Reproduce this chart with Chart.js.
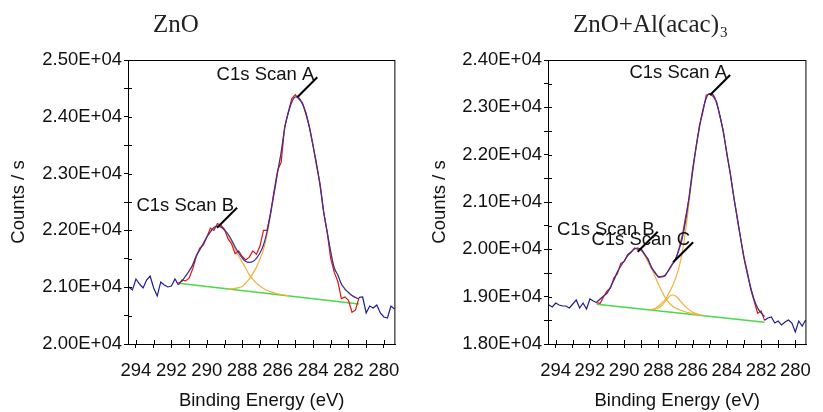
<!DOCTYPE html>
<html>
<head>
<meta charset="utf-8">
<script src="https://cdn.jsdelivr.net/npm/chart.js@4.4.1/dist/chart.umd.min.js"></script>
<style>
  body { margin: 0; background: #fff; }
  #wrap { position: relative; width: 823px; height: 412px; }
  canvas { position: absolute; top: 0; }
  #left { left: 0; }
  #right { left: 412px; }
</style>
</head>
<body>
<div id="wrap">
  <canvas id="left" width="412" height="412"></canvas>
  <canvas id="right" width="411" height="412"></canvas>
</div>
<script>
// binding energy grid (eV), shared by both panels
var energy = [294.4, 294.2, 294.0, 293.8, 293.6, 293.4, 293.2, 293.0, 292.8, 292.6,
              292.4, 292.2, 292.0, 291.8, 291.6, 291.4, 291.2, 291.0, 290.8, 290.6,
              290.4, 290.2, 290.0, 289.8, 289.6, 289.4, 289.2, 289.0, 288.8, 288.6,
              288.4, 288.2, 288.0, 287.8, 287.6, 287.4, 287.2, 287.0, 286.8, 286.6,
              286.4, 286.2, 286.0, 285.8, 285.6, 285.4, 285.2, 285.0, 284.8, 284.6,
              284.4, 284.2, 284.0, 283.8, 283.6, 283.4, 283.2, 283.0, 282.8, 282.6,
              282.4, 282.2, 282.0, 281.8, 281.6, 281.4, 281.2, 281.0, 280.8, 280.6,
              280.4, 280.2, 280.0, 279.8, 279.6, 279.4];

// ---- ZnO ----
var rawZnO = [21004, 20951, 21144, 21056, 20986, 21127, 21197, 20986, 20845, 21092,
              21039, 21004, 21021, 21144, 21040, 21127, 21110, 21160, 21320, 21530,
              21690, 21740, 21880, 22040, 22000, 22120, 22090, 22020, 21850, 21760,
              21590, 21640, 21540, 21480, 21530, 21640, 21580, 21720, 22000, 22000,
              22300, 22700, 23060, 23200, 23830, 24080, 24320, 24390, 24310, 24250,
              24040, 23820, 23500, 23130, 22820, 22330, 21960, 21500, 21260, 21100,
              20800, 20830, 20770, 20560, 20600, 20820, 20827, 20546, 20669, 20634,
              20687, 20546, 20475, 20458, 20669, 20616];
// envelope starts at energy[14]
var envZnO = [21074, 21109, 21197, 21285, 21391, 21549, 21655, 21769, 21884, 21972,
              22051, 22077, 22060, 22007, 21937, 21831, 21708, 21602, 21514, 21452,
              21438, 21452, 21509, 21602, 21743, 21972, 22306, 22659, 23028, 23380,
              23803, 24067, 24261, 24349, 24331, 24225, 24067, 23803, 23486, 23169,
              22782, 22324, 21972, 21620, 21338, 21215, 21056, 20968, 20907, 20854,
              20819, 20792];
// component B starts at energy[14], component A at energy[28]
var peakBZnO = [21074, 21109, 21197, 21285, 21391, 21549, 21655, 21769, 21884, 21972,
                22051, 22076, 22053, 21996, 21909, 21797, 21670, 21548, 21440, 21333,
                21216, 21139, 21072, 21020, 20977, 20945, 20921, 20901, 20885, 20872,
                20860, 20850];
var peakAZnO = [20972, 20972, 20980, 20993, 21014, 21073, 21148, 21239, 21349, 21495,
                21663, 21920, 22268, 22634, 23012, 23370, 23797, 24064, 24261, 24349,
                24331, 24225, 24067, 23803, 23486, 23169, 22782, 22324, 21972, 21620,
                21338, 21215, 21056, 20968, 20907, 20854, 20819, 20792];
var bgEZnO = [291.6, 281.4];
var bgZnO = [21069, 20704];
var labelsZnO = ['C1s Scan A', 'C1s Scan B'];
var labelEZnO = [284.89, 289.42];
var labelCZnO = [24343, 22048];

// ---- ZnO+Al(acac)3 ----
var rawAl = [18824, 18782, 18866, 18824, 18803, 18803, 18761, 18845, 18930, 18761,
             18866, 18740, 18951, 18908, 18870, 18860, 19000, 19120, 19180, 19400,
             19480, 19700, 19740, 19890, 19930, 20030, 20000, 20010, 19880, 19800,
             19600, 19520, 19410, 19430, 19440, 19570, 19690, 19780, 20010, 20300,
             20700, 21100, 21700, 22150, 22620, 22900, 23260, 23280, 23230, 23120,
             22800, 22500, 22000, 21620, 21100, 20700, 20250, 19840, 19520, 19150,
             18900, 18650, 18700, 18500, 18549, 18570, 18444, 18486, 18401, 18465,
             18507, 18444, 18254, 18486, 18380, 18507];
// envelope starts at energy[14]
var envAl = [18887, 18951, 19014, 19077, 19204, 19352, 19521, 19648, 19754, 19859,
             19944, 20007, 20028, 19986, 19901, 19775, 19627, 19500, 19426, 19415,
             19458, 19553, 19669, 19796, 19986, 20239, 20620, 21127, 21655, 22162,
             22585, 22944, 23197, 23292, 23261, 23092, 22817, 22458, 22035, 21592,
             21127, 20662, 20239, 19817, 19479, 19183, 18930, 18761, 18655, 18581];
// B starts at energy[14], C and A at energy[30]
var peakBAl = [18887, 18951, 19014, 19077, 19204, 19352, 19521, 19648, 19754, 19859,
               19944, 20007, 20023, 19975, 19873, 19725, 19597, 19429, 19261, 19114,
               18976, 18878, 18810, 18762, 18730, 18702, 18677, 18656, 18638, 18624,
               18612];
var peakCAl = [18722, 18734, 18761, 18814, 18896, 18988, 19035, 19012, 18945, 18862,
               18784, 18721, 18673, 18641, 18618, 18603];
var peakAAl = [18732, 18749, 18801, 18864, 18936, 19068, 19210, 19382, 19615, 19947,
               20419, 21011, 21593, 22126, 22568, 22940, 23197, 23292, 23261, 23092,
               22817, 22458, 22035, 21592, 21127, 20662, 20239, 19817, 19479, 19183,
               18930, 18761, 18655, 18581];
var bgEAl = [291.6, 281.8];
var bgAl = [18842, 18460];
var labelsAl = ['C1s Scan A', 'C1s Scan B', 'C1s Scan C'];
var labelEAl = [284.98, 289.21, 287.14];
var labelCAl = [23261, 19950, 19726];

var NAVY = '#1c1c96';
var RED = '#e01414';
var ORANGE = '#efb13c';
var GREEN = '#4ad94a';

Chart.defaults.font.family = "'Liberation Sans', Arial, sans-serif";
Chart.defaults.font.size = 18.5;
Chart.defaults.color = '#111';

function pts(vals, start) {
    return vals.map(function (v, i) { return { x: energy[start + i], y: v }; });
}

// frame, inner tick marks, peak labels and the panel title
var decor = {
    id: 'decor',
    afterDraw: function (chart, args, opts) {
        var ctx = chart.ctx, a = chart.chartArea;
        var xs = chart.scales.x, ys = chart.scales.y;
        ctx.save();
        ctx.strokeStyle = '#000';
        ctx.lineWidth = 1;
        ctx.strokeRect(a.left + 0.5, a.top + 0.5, a.right - a.left - 1, a.bottom - a.top);
        ctx.beginPath();
        xs.ticks.forEach(function (t) {
            var px = Math.round(xs.getPixelForValue(t.value)) + 0.5;
            ctx.moveTo(px, a.bottom);
            ctx.lineTo(px, a.bottom - 4);
        });
        ys.ticks.forEach(function (t) {
            var py = Math.round(ys.getPixelForValue(t.value)) + 0.5;
            ctx.moveTo(a.left, py);
            ctx.lineTo(a.left + 4, py);
        });
        ctx.stroke();

        // leader lines + labels
        ctx.lineWidth = 2;
        ctx.fillStyle = '#111';
        ctx.font = "18.5px 'Liberation Sans', Arial, sans-serif";
        ctx.textAlign = 'right';
        ctx.textBaseline = 'middle';
        opts.labels.forEach(function (txt, i) {
            var px = xs.getPixelForValue(opts.labelE[i]);
            var py = ys.getPixelForValue(opts.labelC[i]);
            ctx.beginPath();
            ctx.moveTo(px, py);
            ctx.lineTo(px + 20, py - 20);
            ctx.stroke();
            ctx.fillText(txt, px + 17, py - 22);
        });

        // title (serif, optional subscript)
        ctx.textAlign = 'left';
        ctx.textBaseline = 'alphabetic';
        ctx.fillStyle = '#222';
        ctx.font = "25px 'Liberation Serif', 'Times New Roman', serif";
        var tx = a.left + 25, ty = 32;
        ctx.fillText(opts.title[0], tx, ty);
        if (opts.title[1]) {
            var w = ctx.measureText(opts.title[0]).width;
            ctx.font = "15px 'Liberation Serif', 'Times New Roman', serif";
            ctx.fillText(opts.title[1], tx + w + 1, ty + 5);
        }
        ctx.restore();
    }
};

function createPanel(id, d) {
    var lo = d.bgE[1], hi = d.bgE[0];
    var datasets = [
        { data: pts(d.env, 14), borderColor: '#3232a6', borderWidth: 1.2, cubicInterpolationMode: 'monotone' },
        { data: pts(d.raw, 0), borderColor: NAVY, borderWidth: 1.2,
          segment: { borderColor: function (c) {
              var a = c.p0.parsed.x, b = c.p1.parsed.x;
              return (a <= hi + 0.01 && b >= lo - 0.01) ? RED : NAVY;
          } } }
    ];
    d.peaks.forEach(function (p) {
        datasets.push({ data: pts(p[0], p[1]), borderColor: ORANGE, borderWidth: 1.2, cubicInterpolationMode: 'monotone' });
    });
    datasets.push({ data: [{ x: d.bgE[0], y: d.bg[0] }, { x: d.bgE[1], y: d.bg[1] }], borderColor: GREEN, borderWidth: 1.5 });

    return new Chart(document.getElementById(id), {
        type: 'line',
        data: { datasets: datasets },
        options: {
            responsive: false,
            animation: false,
            devicePixelRatio: 1,
            elements: { point: { radius: 0 }, line: { tension: 0 } },
            layout: { padding: { top: 60, right: d.padRight, left: 0, bottom: 0 } },
            plugins: {
                legend: { display: false },
                tooltip: { enabled: false },
                decor: { labels: d.labels, labelE: d.labelE, labelC: d.labelC, title: d.title }
            },
            scales: {
                x: {
                    type: 'linear', reverse: true, min: 279.35, max: 294.45,
                    afterFit: function (s) { s.height = 68; },
                    grid: { drawOnChartArea: false, color: '#000', tickLength: 4 },
                    border: { color: '#000' },
                    ticks: {
                        stepSize: 1, includeBounds: false, autoSkip: false, maxRotation: 0, padding: 12,
                        callback: function (v) { var r = Math.round(v); return r % 2 === 0 ? String(r) : ''; }
                    },
                    title: { display: true, text: 'Binding Energy (eV)', padding: { top: 0, bottom: 0 } }
                },
                y: {
                    min: d.ymin, max: d.ymax,
                    afterFit: function (s) { s.width = d.yWidth; },
                    grid: { drawOnChartArea: false, color: '#000', tickLength: 4 },
                    border: { color: '#000' },
                    ticks: {
                        stepSize: 500, autoSkip: false, padding: 2,
                        callback: function (v) { return v % 1000 === 0 ? (v / 10000).toFixed(2) + 'E+04' : ''; }
                    },
                    title: { display: true, text: 'Counts / s', padding: { top: d.yTitlePad, bottom: 0 } }
                }
            }
        },
        plugins: [decor]
    });
}

createPanel('left', {
    raw: rawZnO, env: envZnO,
    peaks: [[peakBZnO, 14], [peakAZnO, 28]],
    bgE: bgEZnO, bg: bgZnO,
    labels: labelsZnO, labelE: labelEZnO, labelC: labelCZnO,
    title: ['ZnO'],
    ymin: 20000, ymax: 25000,
    yWidth: 128, yTitlePad: 8, padRight: 16
});

createPanel('right', {
    raw: rawAl, env: envAl,
    peaks: [[peakBAl, 14], [peakCAl, 30], [peakAAl, 30]],
    bgE: bgEAl, bg: bgAl,
    labels: labelsAl, labelE: labelEAl, labelC: labelCAl,
    title: ['ZnO+Al(acac)', '3'],
    ymin: 18000, ymax: 24000,
    yWidth: 136, yTitlePad: 17, padRight: 6
});
</script>
</body>
</html>
